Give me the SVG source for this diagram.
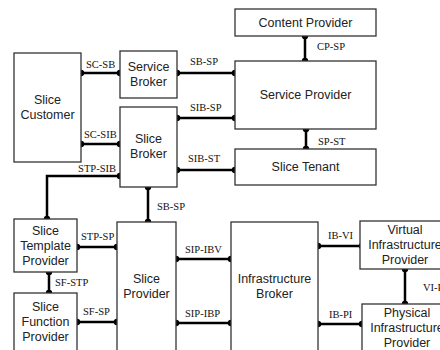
<svg xmlns="http://www.w3.org/2000/svg" width="440" height="350" viewBox="0 0 440 350">
<style>
.box{fill:#fff;stroke:#333;stroke-width:1.3}
.t{font-family:"Liberation Sans",Arial,sans-serif;font-size:12.5px;fill:#222;text-anchor:middle}
.l{font-family:"Liberation Serif","Times New Roman",serif;font-size:10.5px;fill:#111}
.c{stroke:#000;stroke-width:2.5;fill:none}
.d{fill:#000}
</style>
<rect width="440" height="350" fill="#fff"/>
<g id="connectors">
<path class="c" d="M81 73H120M81 144H120M120 176H47V219M177 73H235M305 36V61M177 118H235M306 129V149M177 170H235M148 187V222M77 247H117M49 272V293M77 322H117M176 259H231M176 323H231M318 246H362M405 269V304M318 324H362"/>
<g class="d">
<circle cx="81" cy="73" r="3.2"/><circle cx="120" cy="73" r="3.2"/>
<circle cx="81" cy="144" r="3.2"/><circle cx="120" cy="144" r="3.2"/>
<circle cx="120" cy="176" r="3.2"/><circle cx="47" cy="219" r="3.2"/>
<circle cx="177" cy="73" r="3.2"/><circle cx="235" cy="73" r="3.2"/>
<circle cx="305" cy="36" r="3.2"/><circle cx="305" cy="61" r="3.2"/>
<circle cx="177" cy="118" r="3.2"/><circle cx="235" cy="118" r="3.2"/>
<circle cx="306" cy="129" r="3.2"/><circle cx="306" cy="149" r="3.2"/>
<circle cx="177" cy="170" r="3.2"/><circle cx="235" cy="170" r="3.2"/>
<circle cx="148" cy="187" r="3.2"/><circle cx="148" cy="222" r="3.2"/>
<circle cx="77" cy="247" r="3.2"/><circle cx="117" cy="247" r="3.2"/>
<circle cx="49" cy="272" r="3.2"/><circle cx="49" cy="293" r="3.2"/>
<circle cx="77" cy="322" r="3.2"/><circle cx="117" cy="322" r="3.2"/>
<circle cx="176" cy="259" r="3.2"/><circle cx="231" cy="259" r="3.2"/>
<circle cx="176" cy="323" r="3.2"/><circle cx="231" cy="323" r="3.2"/>
<circle cx="318" cy="246" r="3.2"/><circle cx="362" cy="246" r="3.2"/>
<circle cx="405" cy="269" r="3.2"/><circle cx="405" cy="304" r="3.2"/>
<circle cx="318" cy="324" r="3.2"/><circle cx="362" cy="324" r="3.2"/>
</g>
<text class="l" x="86" y="68">SC-SB</text>
<text class="l" x="84" y="138">SC-SIB</text>
<text class="l" x="116" y="172" text-anchor="end">STP-SIB</text>
<text class="l" x="190" y="65">SB-SP</text>
<text class="l" x="317" y="50">CP-SP</text>
<text class="l" x="190" y="111">SIB-SP</text>
<text class="l" x="318" y="145">SP-ST</text>
<text class="l" x="188" y="162">SIB-ST</text>
<text class="l" x="157" y="210">SB-SP</text>
<text class="l" x="81" y="240">STP-SP</text>
<text class="l" x="55" y="286">SF-STP</text>
<text class="l" x="83" y="315">SF-SP</text>
<text class="l" x="185" y="253">SIP-IBV</text>
<text class="l" x="185" y="317">SIP-IBP</text>
<text class="l" x="328" y="239">IB-VI</text>
<text class="l" x="329" y="318">IB-PI</text>
<text class="l" x="423" y="291">VI-PI</text>
</g>
<g id="slice-customer"><rect class="box" x="14" y="53" width="67" height="109"/><text class="t" x="47.5" y="104">Slice</text><text class="t" x="47.5" y="119">Customer</text></g>
<g id="service-broker"><rect class="box" x="120" y="51" width="57" height="47"/><text class="t" x="148.5" y="71">Service</text><text class="t" x="148.5" y="86">Broker</text></g>
<g id="slice-broker"><rect class="box" x="120" y="107" width="57" height="80"/><text class="t" x="148.5" y="143">Slice</text><text class="t" x="148.5" y="158">Broker</text></g>
<g id="content-provider"><rect class="box" x="235" y="9" width="141" height="27"/><text class="t" x="305.5" y="27">Content Provider</text></g>
<g id="service-provider"><rect class="box" x="235" y="61" width="141" height="68"/><text class="t" x="305.5" y="99">Service Provider</text></g>
<g id="slice-tenant"><rect class="box" x="235" y="149" width="141" height="36"/><text class="t" x="305.5" y="171">Slice Tenant</text></g>
<g id="slice-template-provider"><rect class="box" x="14" y="219" width="63" height="53"/><text class="t" x="45.5" y="235">Slice</text><text class="t" x="45.5" y="250">Template</text><text class="t" x="45.5" y="265">Provider</text></g>
<g id="slice-function-provider"><rect class="box" x="14" y="293" width="63" height="70"/><text class="t" x="45.5" y="311">Slice</text><text class="t" x="45.5" y="326">Function</text><text class="t" x="45.5" y="341">Provider</text></g>
<g id="slice-provider"><rect class="box" x="117" y="222" width="59" height="140"/><text class="t" x="146.5" y="283">Slice</text><text class="t" x="146.5" y="298">Provider</text></g>
<g id="infrastructure-broker"><rect class="box" x="231" y="222" width="87" height="140"/><text class="t" x="274.5" y="283">Infrastructure</text><text class="t" x="274.5" y="298">Broker</text></g>
<g id="virtual-infrastructure-provider"><rect class="box" x="360" y="221" width="90" height="48"/><text class="t" x="405" y="234">Virtual</text><text class="t" x="405" y="249">Infrastructure</text><text class="t" x="405" y="264">Provider</text></g>
<g id="physical-infrastructure-provider"><rect class="box" x="362" y="304" width="90" height="60"/><text class="t" x="407" y="317">Physical</text><text class="t" x="407" y="332">Infrastructure</text><text class="t" x="407" y="347">Provider</text></g>
</svg>
